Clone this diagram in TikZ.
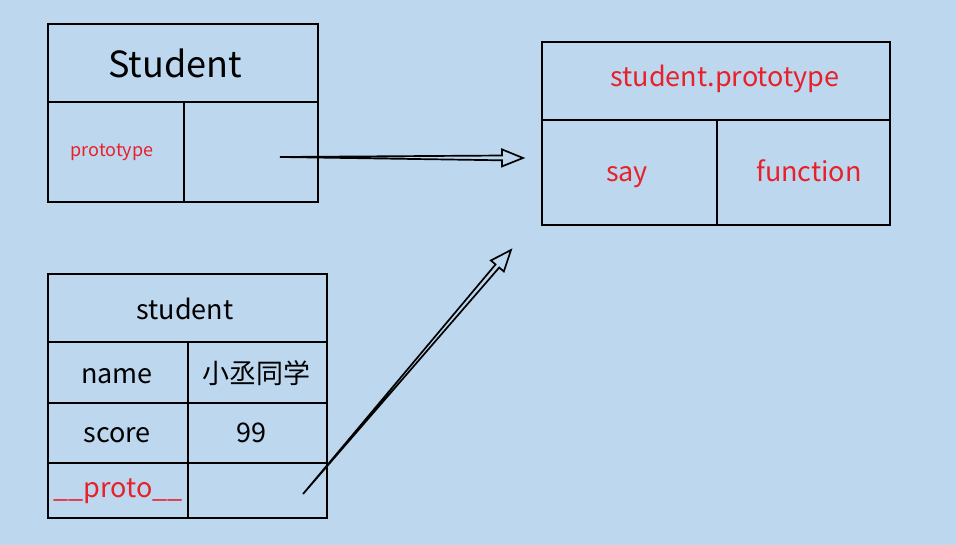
\documentclass[tikz,border=0pt]{standalone}
\usepackage{fontspec}
\setmainfont{Noto Sans CJK SC}
\usetikzlibrary{calc}
\definecolor{bg}{RGB}{189,215,238}
\definecolor{txtred}{RGB}{232,32,42}
\begin{document}
\begin{tikzpicture}[x=1pt,y=-1pt,
  cell/.style={draw=black, line width=1.8pt, inner sep=0pt, outer sep=0pt},
  lbl/.style={font=\fontsize{27}{30}\selectfont, text=black, inner sep=0pt, anchor=base},
  redlbl/.style={lbl, text=txtred},
  hollowarrow/.style={draw=black, line width=1.7pt, line join=miter}]
\useasboundingbox (0,0) rectangle (956,545);
\fill[bg] (0,0) rectangle (956,545);

% Student box
\node[cell, minimum width=270pt, minimum height=78pt] (Stop) at (183,63) {};
\node[cell, minimum width=136pt, minimum height=100pt] (Sleft) at (116,152) {};
\node[cell, minimum width=134pt, minimum height=100pt] (Sright) at (251,152) {};
\node[lbl, font=\fontsize{36}{40}\selectfont] (StudentT) at (175,78) {Student};
\node[redlbl, font=\fontsize{18}{20}\selectfont] (protoT) at (112,157) {prototype};

% student.prototype box
\node[cell, minimum width=348pt, minimum height=78pt] (Ptop) at (716,81) {};
\node[cell, minimum width=175pt, minimum height=105pt] (Psay) at (629.5,172.5) {};
\node[cell, minimum width=173pt, minimum height=105pt] (Pfun) at (803.5,172.5) {};
\node[redlbl] (PtopT) at (725,87) {student.prototype};
\node[redlbl] (sayT) at (627,182) {say};
\node[redlbl] (funT) at (809,182) {function};

% student table
\node[cell, minimum width=279pt, minimum height=68pt] (Ttop) at (187.5,308) {};
\node[cell, minimum width=140pt, minimum height=61pt] (Tname) at (118,372.5) {};
\node[cell, minimum width=139pt, minimum height=61pt] (Tnamev) at (257.5,372.5) {};
\node[cell, minimum width=140pt, minimum height=60pt] (Tscore) at (118,433) {};
\node[cell, minimum width=139pt, minimum height=60pt] (Tscorev) at (257.5,433) {};
\node[cell, minimum width=140pt, minimum height=55pt] (Tproto) at (118,490.5) {};
\node[cell, minimum width=139pt, minimum height=55pt] (Tprotov) at (257.5,490.5) {};
\node[lbl] (TtopT) at (185,320) {student};
\node[lbl] (TnameT) at (117,383) {name};
\node[lbl] (TnamevT) at (256,383) {小丞同学};
\node[lbl] (TscoreT) at (117,442) {score};
\node[lbl] (TscorevT) at (251,442) {99};
\node[redlbl] (TprotoT) at (118,497) {\_\_proto\_\_};

% arrow 1: Student.prototype -> student.prototype
\coordinate (a1s) at (280,157);
\coordinate (a1e) at (523,158);
\coordinate (a1b) at ($(a1e)!21pt!(a1s)$);
\draw[hollowarrow] (a1s) -- ($(a1b)!2.4pt!90:(a1e)$) -- ($(a1b)!8.5pt!90:(a1e)$)
  -- (a1e) -- ($(a1b)!8.5pt!-90:(a1e)$) -- ($(a1b)!2.4pt!-90:(a1e)$) -- cycle;

% arrow 2: __proto__ -> student.prototype
\coordinate (a2s) at (303,494);
\coordinate (a2e) at (511,250);
\coordinate (a2b) at ($(a2e)!21pt!(a2s)$);
\draw[hollowarrow] (a2s) -- ($(a2b)!2.4pt!90:(a2e)$) -- ($(a2b)!8.5pt!90:(a2e)$)
  -- (a2e) -- ($(a2b)!8.5pt!-90:(a2e)$) -- ($(a2b)!2.4pt!-90:(a2e)$) -- cycle;
\end{tikzpicture}
\end{document}
